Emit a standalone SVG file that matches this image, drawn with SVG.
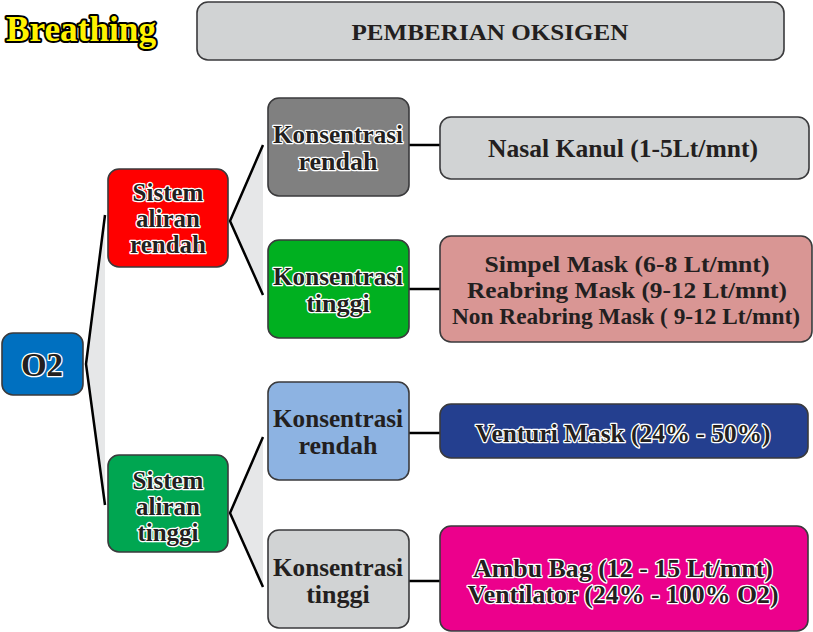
<svg xmlns="http://www.w3.org/2000/svg" width="813" height="632" viewBox="0 0 813 632" font-family="'Liberation Serif', 'DejaVu Serif', serif">
<style>
.box{stroke:#3a3a3c;stroke-width:1.6}
text{font-family:'Liberation Serif','DejaVu Serif',serif}
.t{font-weight:bold;fill:#231f20;text-anchor:middle}
.o{stroke:#ffffff;stroke-width:2.6;stroke-linejoin:round;paint-order:stroke}
.ln{stroke:#000;stroke-width:2.5;fill:none}
.wedge{fill:#e6e7e8;stroke:none}
</style>
<rect width="813" height="632" fill="#fff"/>
<text x="81" y="41" class="t" font-size="35" style="fill:#fff200;stroke:#000;stroke-width:4;stroke-linejoin:round;paint-order:stroke" textLength="150" lengthAdjust="spacingAndGlyphs">Breathing</text>
<g id="title"><rect class="box" x="197" y="2" width="587" height="58" rx="11" fill="#d1d3d4"/><text class="t" x="490" y="40" font-size="23" textLength="277" lengthAdjust="spacingAndGlyphs">PEMBERIAN OKSIGEN</text></g>
<g id="connectors">
<polygon class="wedge" points="105,215 86,364 105,505"/>
<polygon class="wedge" points="263,145 230,221 263,295"/>
<polygon class="wedge" points="263,437 230,513 263,587"/>
<polyline class="ln" points="105,215 86,364 105,505"/>
<polyline class="ln" points="263,145 230,221 263,295"/>
<polyline class="ln" points="263,437 230,513 263,587"/>
<line class="ln" x1="409" y1="145" x2="440" y2="145"/>
<line class="ln" x1="409" y1="289" x2="440" y2="289"/>
<line class="ln" x1="409" y1="433" x2="440" y2="433"/>
<line class="ln" x1="409" y1="581" x2="440" y2="581"/>
</g>
<g id="o2"><rect class="box" x="2" y="333" width="81" height="62" rx="11" fill="#0070c0"/><text class="t o" x="42" y="376" font-size="33">O2</text></g>
<g id="sistem-rendah"><rect class="box" x="108" y="169" width="120" height="98" rx="11" fill="#ff0000"/><text class="t o" font-size="25"><tspan x="168" y="201">Sistem</tspan><tspan x="168" y="227">aliran</tspan><tspan x="168" y="253">rendah</tspan></text></g>
<g id="sistem-tinggi"><rect class="box" x="108" y="455" width="120" height="97" rx="11" fill="#00a651"/><text class="t o" font-size="25"><tspan x="168" y="489">Sistem</tspan><tspan x="168" y="515">aliran</tspan><tspan x="168" y="541">tinggi</tspan></text></g>
<g id="k-rendah-1"><rect class="box" x="268" y="98" width="141" height="98" rx="11" fill="#808080"/><text class="t o" font-size="26"><tspan x="338" y="143" textLength="130" lengthAdjust="spacingAndGlyphs">Konsentrasi</tspan><tspan x="338" y="170">rendah</tspan></text></g>
<g id="k-tinggi-1"><rect class="box" x="268" y="240" width="141" height="98" rx="11" fill="#00b020"/><text class="t o" font-size="26"><tspan x="338" y="285" textLength="130" lengthAdjust="spacingAndGlyphs">Konsentrasi</tspan><tspan x="338" y="312">tinggi</tspan></text></g>
<g id="k-rendah-2"><rect class="box" x="268" y="382" width="141" height="98" rx="11" fill="#8db3e2"/><text class="t" font-size="26"><tspan x="338" y="427" textLength="130" lengthAdjust="spacingAndGlyphs">Konsentrasi</tspan><tspan x="338" y="454">rendah</tspan></text></g>
<g id="k-tinggi-2"><rect class="box" x="268" y="530" width="141" height="98" rx="11" fill="#d1d3d4"/><text class="t" font-size="26"><tspan x="338" y="576" textLength="130" lengthAdjust="spacingAndGlyphs">Konsentrasi</tspan><tspan x="338" y="603">tinggi</tspan></text></g>
<g id="nasal"><rect class="box" x="440" y="117" width="369" height="62" rx="11" fill="#d1d3d4"/><text class="t" x="623" y="157" font-size="25" textLength="270" lengthAdjust="spacingAndGlyphs">Nasal Kanul (1-5Lt/mnt)</text></g>
<g id="mask"><rect class="box" x="440" y="236" width="372" height="106" rx="11" fill="#d99694"/><text class="t" x="627" y="272" font-size="24" textLength="285" lengthAdjust="spacingAndGlyphs">Simpel Mask (6-8 Lt/mnt)</text><text class="t" x="627" y="298" font-size="24" textLength="320" lengthAdjust="spacingAndGlyphs">Reabring Mask (9-12 Lt/mnt)</text><text class="t" x="626" y="324" font-size="24" textLength="348" lengthAdjust="spacingAndGlyphs">Non Reabring Mask ( 9-12 Lt/mnt)</text></g>
<g id="venturi"><rect class="box" x="440" y="404" width="368" height="54" rx="11" fill="#243f8f"/><text class="t o" x="623" y="442" font-size="25" textLength="295" lengthAdjust="spacingAndGlyphs">Venturi Mask (24% - 50%)</text></g>
<g id="ambu"><rect class="box" x="440" y="526" width="368" height="105" rx="11" fill="#ec008c"/><text class="t o" font-size="25"><tspan x="623" y="577" textLength="300" lengthAdjust="spacingAndGlyphs">Ambu Bag (12 - 15 Lt/mnt)</tspan><tspan x="623" y="603" textLength="311" lengthAdjust="spacingAndGlyphs">Ventilator (24% - 100% O2)</tspan></text></g>
</svg>
